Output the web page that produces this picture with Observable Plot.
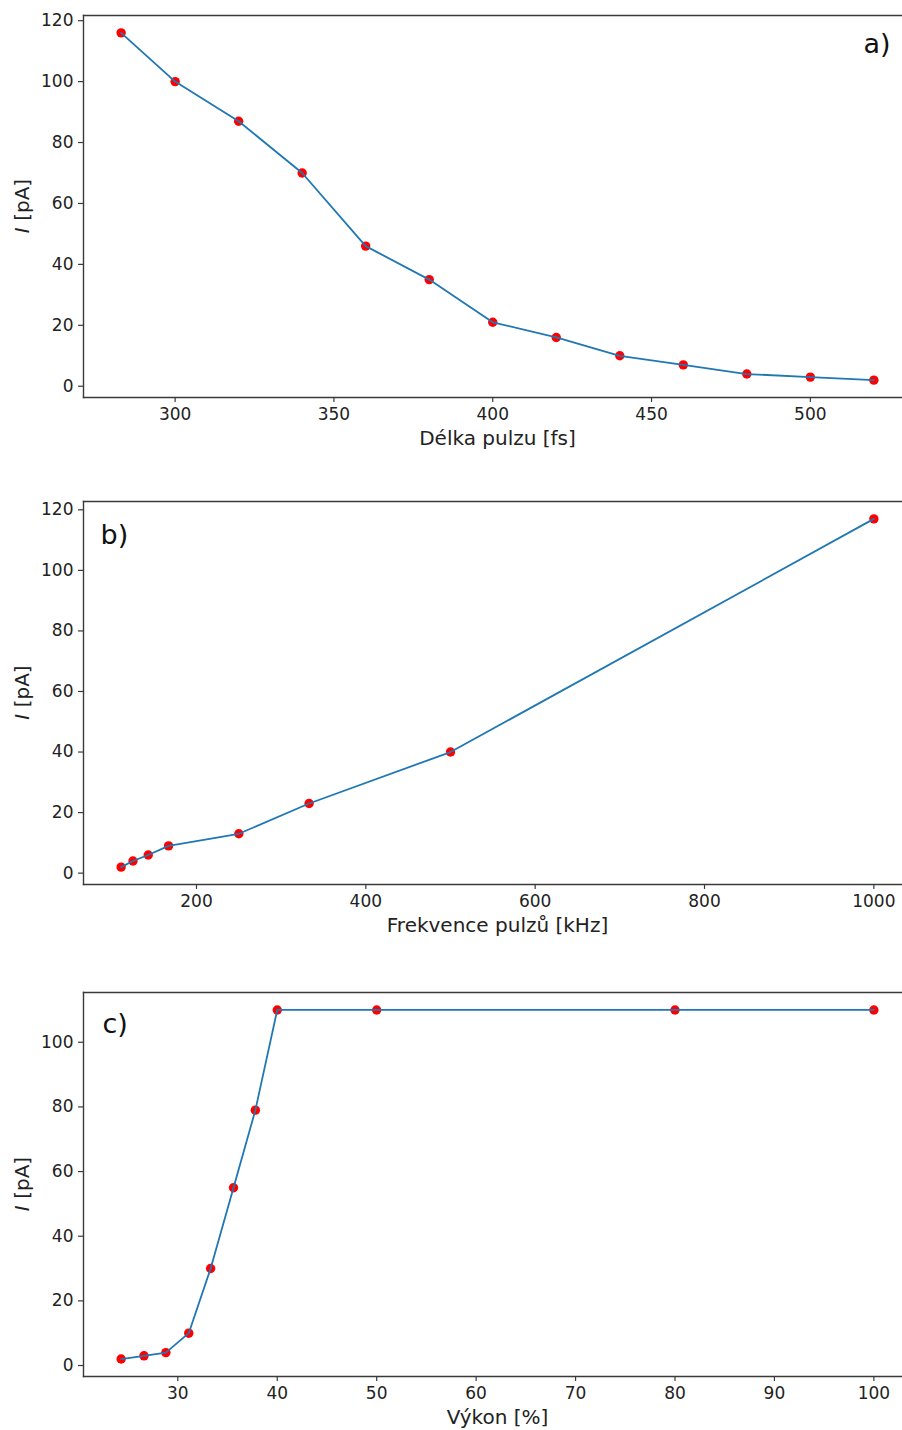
<!DOCTYPE html>
<html>
<head>
<meta charset="utf-8">
<script src="https://cdn.jsdelivr.net/npm/d3@7"></script>
<script src="https://cdn.jsdelivr.net/npm/@observablehq/plot@0.6"></script>
<style>
  body { margin: 0; background: #fff; }
  #wrap { position: relative; width: 902px; height: 1430px; overflow: hidden; background: #fff; font-family: "DejaVu Sans", sans-serif; }
  .panel { position: absolute; left: 0; width: 902px; overflow: hidden; }
  .panel svg { max-width: none; overflow: hidden; }
</style>
</head>
<body>
<div id="wrap"></div>
<script>
// ---- Data ----
// a) pulse length
const pulseLength = [283, 300, 320, 340, 360, 380, 400, 420, 440, 460, 480, 500, 520];
const currentA    = [116, 100, 87, 70, 46, 35, 21, 16, 10, 7, 4, 3, 2];
// b) pulse frequency
const pulseFreq   = [111, 125, 143, 167, 250, 333, 500, 1000];
const currentB    = [2, 4, 6, 9, 13, 23, 40, 117];
// c) power
const power       = [24.3, 26.6, 28.8, 31.1, 33.3, 35.6, 37.8, 40, 50, 80, 100];
const currentC    = [2, 3, 4, 10, 30, 55, 79, 110, 110, 110, 110];

const ticksXA = [300, 350, 400, 450, 500];
const ticksXB = [200, 400, 600, 800, 1000];
const ticksXC = [30, 40, 50, 60, 70, 80, 90, 100];
const ticksYAB = [0, 20, 40, 60, 80, 100, 120];
const ticksYC  = [0, 20, 40, 60, 80, 100];

const labelXA = "Délka pulzu [fs]";
const labelXB = "Frekvence pulzů [kHz]";
const labelXC = "Výkon [%]";
const labelYVar = "I";
const labelYUnit = " [pA]";
const tags = ["a)", "b)", "c)"];

function pad(vals) {
  const lo = d3.min(vals), hi = d3.max(vals), m = (hi - lo) * 0.05;
  return [lo - m, hi + m];
}

const SPINE = "#3a3a3a";
const TEXT = "#222";
const fmt = d => String(d);

function panel(cfg) {
  const data = cfg.xs.map((x, i) => ({x, y: cfg.ys[i]}));
  const plot = Plot.plot({
    width: 902,
    height: cfg.height,
    marginLeft: 83,
    marginRight: -9,
    marginTop: cfg.mt,
    marginBottom: cfg.mb,
    style: {fontFamily: "DejaVu Sans", fontSize: "17px", color: TEXT, background: "white"},
    x: {domain: pad(cfg.xs)},
    y: {domain: pad(cfg.ys)},
    marks: [
      Plot.frame({anchor: "top", stroke: SPINE, strokeWidth: 1.4}),
      Plot.frame({anchor: "left", stroke: SPINE, strokeWidth: 1.4}),
      Plot.frame({anchor: "bottom", stroke: SPINE, strokeWidth: 1.4}),
      Plot.axisX({ticks: cfg.xTicks, tickFormat: fmt, tickSize: 5, tickPadding: 5, label: null, stroke: SPINE, strokeWidth: 1.2, fill: TEXT, fontSize: 17}),
      Plot.axisY({ticks: cfg.yTicks, tickFormat: fmt, tickSize: 5, tickPadding: 5, label: null, stroke: SPINE, strokeWidth: 1.2, fill: TEXT, fontSize: 17}),
      Plot.dot(data, {x: "x", y: "y", r: 4.7, fill: "#ff0000", stroke: "none"}),
      Plot.line(data, {x: "x", y: "y", stroke: "#1f77b4", strokeWidth: 1.8}),
      Plot.text([cfg.xLabel], {frameAnchor: "bottom", dy: 41, lineAnchor: "middle", fontSize: 20, fill: TEXT}),
      Plot.text([cfg.tag], {frameAnchor: cfg.tagAnchor, dx: cfg.tagDx, dy: cfg.tagDy, lineAnchor: "top", fontSize: 27, fill: "#111"})
    ]
  });
  const svg = d3.select(plot.tagName.toLowerCase() === "svg" ? plot : plot.querySelector("svg"));
  const cy = (cfg.mt + cfg.height - cfg.mb) / 2;
  const t = svg.append("text")
    .attr("transform", `translate(22,${cy}) rotate(-90)`)
    .attr("text-anchor", "middle")
    .attr("dominant-baseline", "central")
    .attr("font-family", "DejaVu Sans")
    .attr("font-size", 20)
    .attr("fill", TEXT);
  t.append("tspan").attr("font-style", "italic").text(labelYVar);
  t.append("tspan").text(labelYUnit);

  const div = document.createElement("div");
  div.className = "panel";
  div.style.top = cfg.top + "px";
  div.style.height = cfg.height + "px";
  div.appendChild(plot);
  document.getElementById("wrap").appendChild(div);
}

panel({xs: pulseLength, ys: currentA, xTicks: ticksXA, yTicks: ticksYAB, xLabel: labelXA,
  tag: tags[0], tagAnchor: "top-right", tagDx: -21, tagDy: 18,
  top: 0, height: 470, mt: 15, mb: 73});
panel({xs: pulseFreq, ys: currentB, xTicks: ticksXB, yTicks: ticksYAB, xLabel: labelXB,
  tag: tags[1], tagAnchor: "top-left", tagDx: 17, tagDy: 23,
  top: 470, height: 490, mt: 31, mb: 76});
panel({xs: power, ys: currentC, xTicks: ticksXC, yTicks: ticksYC, xLabel: labelXC,
  tag: tags[2], tagAnchor: "top-left", tagDx: 19, tagDy: 21,
  top: 960, height: 470, mt: 32, mb: 54});
</script>
</body>
</html>
